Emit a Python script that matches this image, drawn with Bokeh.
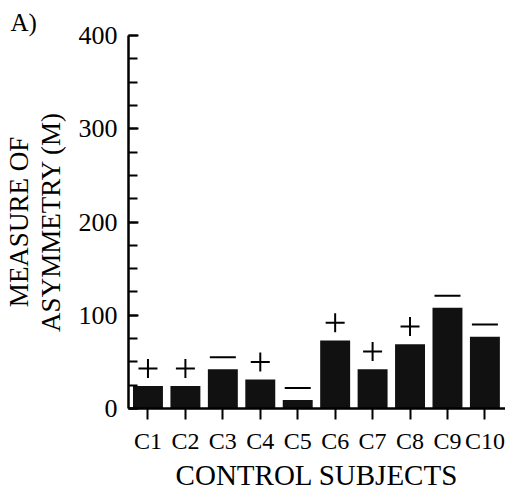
from bokeh.plotting import figure
from bokeh.models import FixedTicker, Range1d
from bokeh.embed import file_html
from bokeh.resources import INLINE

subjects = ["C1", "C2", "C3", "C4", "C5", "C6", "C7", "C8", "C9", "C10"]
asymmetry = [24, 24, 42, 31, 9, 73, 42, 69, 108, 77]
signs = ["+", "+", "-", "+", "-", "+", "+", "+", "-", "-"]
y_ticks = [0, 100, 200, 300, 400]

FONT = "Liberation Serif"

xs = list(range(1, len(subjects) + 1))

p = figure(width=505, height=493, output_backend="svg", toolbar_location=None,
           x_range=Range1d(0.48, 10.55), y_range=Range1d(0, 400),
           min_border_left=118, min_border_right=0, min_border_top=35,
           min_border_bottom=80)
p.outline_line_color = None
p.xgrid.visible = False
p.ygrid.visible = False
p.background_fill_color = "white"
p.border_fill_color = "white"

p.title.text = "A)"
p.title.text_font = FONT
p.title.text_font_size = "25px"
p.title.text_font_style = "normal"
p.title.text_color = "black"
p.title.align = "left"
p.title.offset = -118
p.title.standoff = 0

p.vbar(x=xs, top=asymmetry, width=0.8, bottom=0, fill_color="#111111", line_color=None)

plus_x = [x for x, s in zip(xs, signs) if s == "+"]
plus_y = [v + 19 for v, s in zip(asymmetry, signs) if s == "+"]
minus_x = [x for x, s in zip(xs, signs) if s == "-"]
minus_y = [v + 13 for v, s in zip(asymmetry, signs) if s == "-"]
p.scatter(plus_x, plus_y, marker="cross", size=19, line_color="black", line_width=2)
p.scatter(minus_x, minus_y, marker="dash", size=26, line_color="black", line_width=2)

# x axis
xa = p.xaxis[0]
xa.ticker = FixedTicker(ticks=xs)
xa.major_label_overrides = {x: s for x, s in zip(xs, subjects)}
xa.minor_tick_line_color = None
xa.major_tick_in = 0
xa.major_tick_out = 11
xa.major_tick_line_width = 2
xa.axis_line_width = 2.5
xa.major_label_text_font = FONT
xa.major_label_text_font_size = "24px"
xa.major_label_text_color = "black"
xa.major_label_standoff = 8
xa.axis_label = "CONTROL SUBJECTS"
xa.axis_label_text_font = FONT
xa.axis_label_text_font_size = "29px"
xa.axis_label_text_font_style = "normal"
xa.axis_label_text_color = "black"
xa.axis_label_standoff = 2

# y axis
ya = p.yaxis[0]
ya.ticker = FixedTicker(ticks=y_ticks, minor_ticks=list(range(0, 401, 25)))
ya.major_tick_in = 10
ya.major_tick_out = 0
ya.minor_tick_in = 9
ya.minor_tick_out = 0
ya.major_tick_line_width = 2
ya.minor_tick_line_width = 2
ya.axis_line_width = 2.5
ya.major_label_orientation = "horizontal"
ya.major_label_text_font = FONT
ya.major_label_text_font_size = "26px"
ya.major_label_text_color = "black"
ya.major_label_standoff = 11
ya.axis_label = "MEASURE OF\nASYMMETRY (M)"
ya.axis_label_text_font = FONT
ya.axis_label_text_font_size = "27px"
ya.axis_label_text_font_style = "normal"
ya.axis_label_text_color = "black"
ya.axis_label_standoff = 10
ya.axis_label_text_line_height = 1.05

open("out.html", "w").write(file_html(p, INLINE))
